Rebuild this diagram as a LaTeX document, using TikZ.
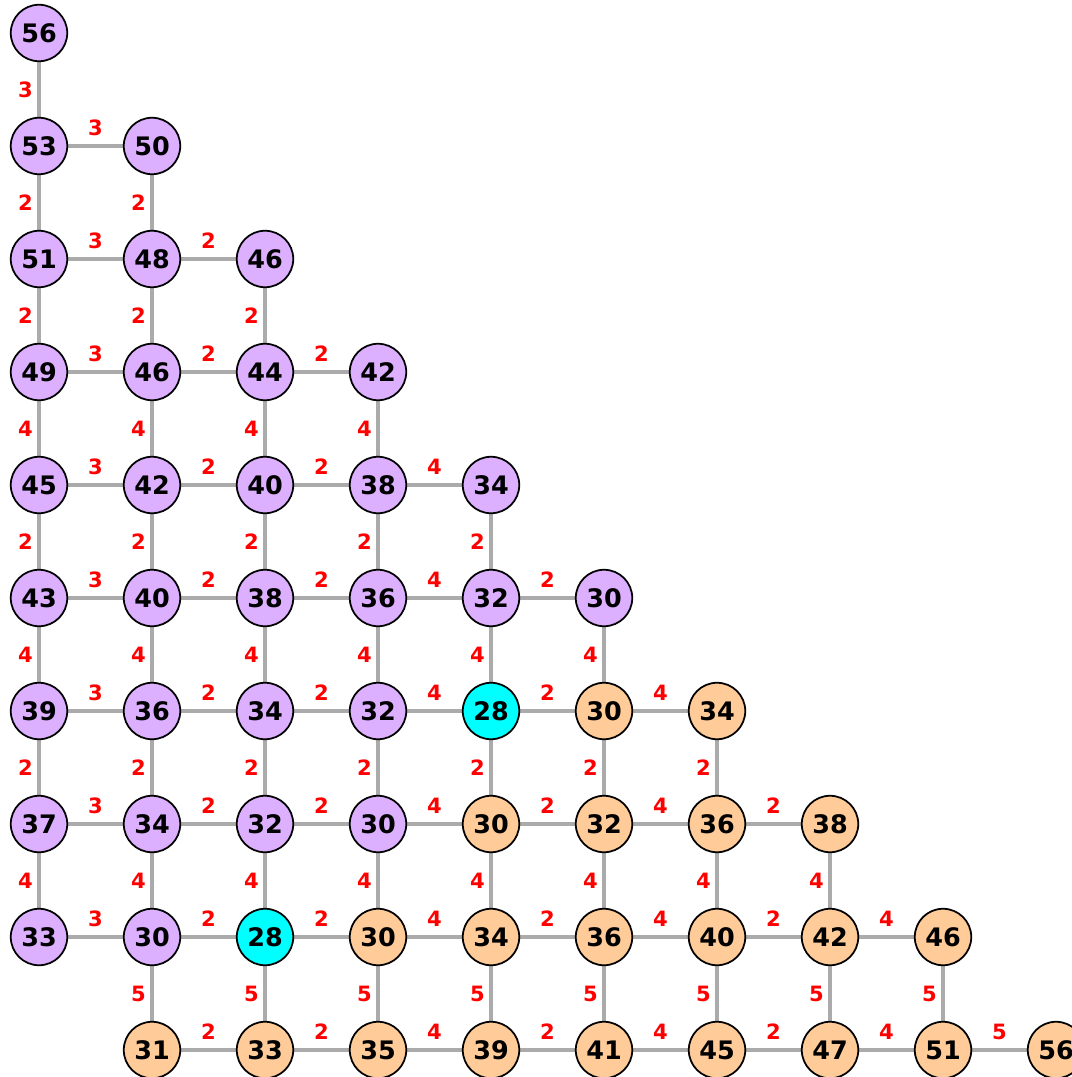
\documentclass[tikz,border=0pt]{standalone}
\usepackage{fontspec}
\setmainfont{DejaVu Sans}
\usepackage{xcolor}
\usetikzlibrary{backgrounds}
\definecolor{vertexviolet}{HTML}{DDB0FF}
\definecolor{vertexpeach}{HTML}{FFCC99}
\definecolor{vertexcyan}{HTML}{00FFFF}
\definecolor{edgegray}{HTML}{ABABAB}
\tikzset{
  vertex/.style={circle,draw=black,line width=1pt,minimum size=1.13cm,inner sep=0pt,font=\bfseries\fontsize{14.5}{14.5}\selectfont},
  violetvertex/.style={vertex,fill=vertexviolet},
  peachvertex/.style={vertex,fill=vertexpeach},
  sourcevertex/.style={vertex,fill=vertexcyan},
  link/.style={line width=2pt,edgegray},
  weight/.style={text=red,font=\bfseries\fontsize{12}{12}\selectfont}
}
\begin{document}
\begin{tikzpicture}[x=0.02cm,y=-0.02cm]
  \useasboundingbox (0,0) rectangle (1071,1077);
  \foreach \i/\j/\d/\s in {
    0/0/56/violetvertex,
    0/1/53/violetvertex, 1/1/50/violetvertex,
    0/2/51/violetvertex, 1/2/48/violetvertex, 2/2/46/violetvertex,
    0/3/49/violetvertex, 1/3/46/violetvertex, 2/3/44/violetvertex, 3/3/42/violetvertex,
    0/4/45/violetvertex, 1/4/42/violetvertex, 2/4/40/violetvertex, 3/4/38/violetvertex, 4/4/34/violetvertex,
    0/5/43/violetvertex, 1/5/40/violetvertex, 2/5/38/violetvertex, 3/5/36/violetvertex, 4/5/32/violetvertex, 5/5/30/violetvertex,
    0/6/39/violetvertex, 1/6/36/violetvertex, 2/6/34/violetvertex, 3/6/32/violetvertex, 4/6/28/sourcevertex, 5/6/30/peachvertex, 6/6/34/peachvertex,
    0/7/37/violetvertex, 1/7/34/violetvertex, 2/7/32/violetvertex, 3/7/30/violetvertex, 4/7/30/peachvertex, 5/7/32/peachvertex, 6/7/36/peachvertex, 7/7/38/peachvertex,
    0/8/33/violetvertex, 1/8/30/violetvertex, 2/8/28/sourcevertex, 3/8/30/peachvertex, 4/8/34/peachvertex, 5/8/36/peachvertex, 6/8/40/peachvertex, 7/8/42/peachvertex, 8/8/46/peachvertex,
    1/9/31/peachvertex, 2/9/33/peachvertex, 3/9/35/peachvertex, 4/9/39/peachvertex, 5/9/41/peachvertex, 6/9/45/peachvertex, 7/9/47/peachvertex, 8/9/51/peachvertex, 9/9/56/peachvertex}{
    \node[\s] (v-\i-\j) at (39+113*\i,33+113*\j) {\d};
  }
  \begin{scope}[on background layer]
    \foreach \i/\j/\w in {
      0/1/3,
      0/2/3, 1/2/2,
      0/3/3, 1/3/2, 2/3/2,
      0/4/3, 1/4/2, 2/4/2, 3/4/4,
      0/5/3, 1/5/2, 2/5/2, 3/5/4, 4/5/2,
      0/6/3, 1/6/2, 2/6/2, 3/6/4, 4/6/2, 5/6/4,
      0/7/3, 1/7/2, 2/7/2, 3/7/4, 4/7/2, 5/7/4, 6/7/2,
      0/8/3, 1/8/2, 2/8/2, 3/8/4, 4/8/2, 5/8/4, 6/8/2, 7/8/4,
      1/9/2, 2/9/2, 3/9/4, 4/9/2, 5/9/4, 6/9/2, 7/9/4, 8/9/5}{
      \pgfmathtruncatemacro{\k}{\i+1}
      \draw[link] (v-\i-\j) -- (v-\k-\j) node[weight,midway,yshift=0.37cm] {\w};
    }
    \foreach \i/\j/\w in {
      0/0/3, 0/1/2, 0/2/2, 0/3/4, 0/4/2, 0/5/4, 0/6/2, 0/7/4,
      1/1/2, 1/2/2, 1/3/4, 1/4/2, 1/5/4, 1/6/2, 1/7/4, 1/8/5,
      2/2/2, 2/3/4, 2/4/2, 2/5/4, 2/6/2, 2/7/4, 2/8/5,
      3/3/4, 3/4/2, 3/5/4, 3/6/2, 3/7/4, 3/8/5,
      4/4/2, 4/5/4, 4/6/2, 4/7/4, 4/8/5,
      5/5/4, 5/6/2, 5/7/4, 5/8/5,
      6/6/2, 6/7/4, 6/8/5,
      7/7/4, 7/8/5,
      8/8/5}{
      \pgfmathtruncatemacro{\k}{\j+1}
      \draw[link] (v-\i-\j) -- (v-\i-\k) node[weight,midway,xshift=-0.27cm] {\w};
    }
  \end{scope}
\end{tikzpicture}
\end{document}
